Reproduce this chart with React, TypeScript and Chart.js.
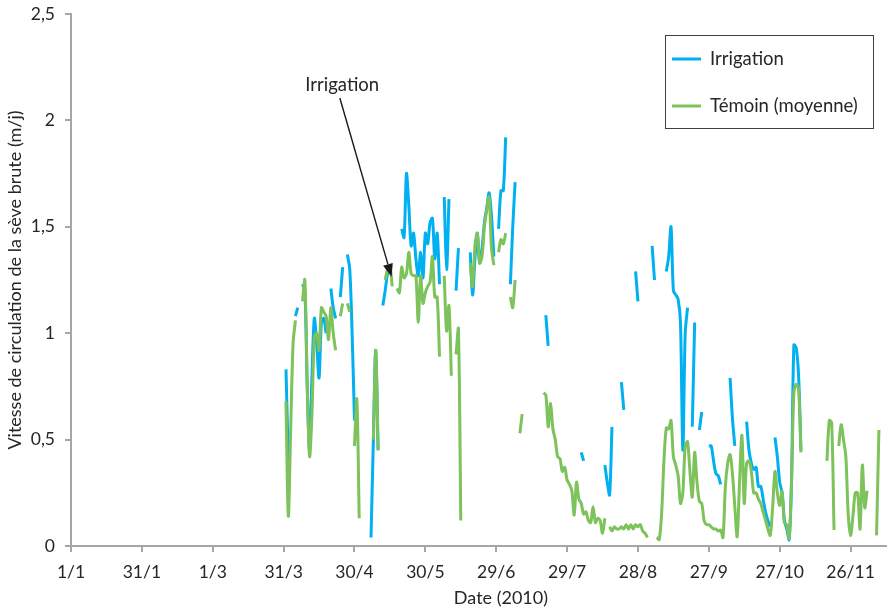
import React, { useEffect, useRef } from "react";
import { Chart, registerables } from "chart.js";

Chart.register(...registerables);

// ---- Data (day of year, 0 = 1 January 2010) ----
const START_DAY = 91;

// Irrigation, one value per day from START_DAY (null = no measure)
const irrigation: (number | null)[] = [
  0.83, 0.4, null, null, 1.08, 1.12, null, 1.23, 1.2, 0.75, // 91-100
  0.45, 0.8, 1.07, 0.95, 0.79, 1.05, 1.07, 1.0, null, 1.21, // 101-110
  1.12, 1.07, null, 1.17, 1.31, null, 1.37, 1.3, 1.0, 0.59, // 111-120
  null, null, null, null, null, null, 0.04, 0.5, 0.92, 0.45, // 121-130
  null, 1.13, 1.2, 1.28, 1.3, null, null, null, null, 1.49, // 131-140
  1.45, 1.75, 1.6, 1.41, 1.47, 1.35, 1.27, 1.38, 1.26, 1.47, // 141-150
  1.42, 1.52, 1.54, 1.35, 1.47, 1.23, null, 1.64, 1.3, 1.63, // 151-160
  null, null, 1.2, 1.4, null, null, null, null, 1.38, 1.18, // 161-170
  1.35, 1.47, 1.33, 1.4, 1.52, 1.59, 1.66, 1.55, 1.36, null, // 171-180
  1.49, 1.67, 1.67, 1.92, null, 1.23, 1.5, 1.71, null, null, // 181-190
  null, null, null, null, null, null, null, null, null, null, // 191-200
  1.085, 0.94, null, null, null, null, null, null, null, null, // 201-210
  null, null, null, null, null, 0.44, 0.4, null, null, null, // 211-220
  null, null, null, null, null, 0.38, 0.3, 0.24, 0.56, null, // 221-230
  null, null, 0.77, 0.64, null, null, null, null, 1.29, 1.15, // 231-240
  null, null, null, null, null, 1.41, 1.25, null, null, null, // 241-250
  null, 1.29, 1.36, 1.5, 1.2, 1.18, 1.16, 1.05, 0.45, 1.0, // 251-260
  1.12, null, 0.56, 1.05, null, 0.545, 0.63, null, null, 0.47, // 261-270
  0.47, 0.4, 0.34, 0.33, 0.29, null, null, null, 0.79, 0.6, // 271-280
  0.47, null, null, null, null, 0.585, 0.45, 0.39, 0.36, 0.37, // 281-290
  0.28, 0.28, 0.22, 0.16, 0.12, 0.09, null, 0.51, 0.42, 0.3, // 291-300
  0.25, 0.12, 0.08, 0.03, 0.3, 0.945, 0.93, 0.8, 0.45, null, // 301-310
];

// Témoin (moyenne), one value per day from START_DAY
const temoin: (number | null)[] = [
  0.68, 0.14, 0.55, 0.95, 1.06, null, null, 1.15, 1.25, 0.75, // 91-100
  0.42, 0.62, 0.98, 1.0, 0.92, 1.12, 1.1, 1.08, 0.97, 1.12, // 101-110
  1.0, 0.92, null, 1.08, 1.14, null, 1.14, 1.1, null, 0.47, // 111-120
  0.69, 0.13, null, null, null, null, null, 0.5, 0.92, 0.45, // 121-130
  null, null, 1.25, 1.3, 1.31, 1.22, null, 1.21, 1.19, 1.31, // 131-140
  1.26, 1.28, 1.38, 1.28, 1.27, 1.27, 1.05, 1.27, 1.14, 1.19, // 141-150
  1.22, 1.24, 1.36, 1.17, 1.17, 0.89, null, 1.27, 1.01, 1.13, // 151-160
  0.8, null, 0.9, 1.02, 0.12, null, null, null, 1.33, 1.22, // 161-170
  1.41, 1.47, 1.33, 1.36, 1.5, 1.58, 1.64, 1.4, 1.32, null, // 171-180
  1.38, 1.44, 1.42, 1.47, null, 1.17, 1.12, 1.25, null, 0.53, // 181-190
  0.62, null, null, null, null, null, null, null, null, 0.72, // 191-200
  0.71, 0.56, 0.67, 0.55, 0.5, 0.42, 0.41, 0.35, 0.37, 0.31, // 201-210
  0.29, 0.26, 0.145, 0.3, 0.22, 0.2, 0.15, 0.16, 0.12, 0.11, // 211-220
  0.185, 0.11, 0.13, 0.12, 0.06, 0.13, null, 0.09, 0.07, 0.09, // 221-230
  0.08, 0.08, 0.09, 0.08, 0.1, 0.08, 0.1, 0.08, 0.1, 0.09, // 231-240
  0.1, 0.07, 0.06, 0.04, null, null, null, 0.04, 0.03, 0.15, // 241-250
  0.4, 0.555, 0.55, 0.59, 0.42, 0.38, 0.33, 0.2, 0.25, 0.47, // 251-260
  0.49, 0.35, 0.23, 0.44, 0.3, 0.21, 0.2, 0.12, 0.1, 0.1, // 261-270
  0.09, 0.08, 0.08, 0.07, 0.075, 0.04, 0.28, 0.39, 0.43, 0.34, // 271-280
  0.185, 0.044, 0.3, 0.52, 0.2, 0.39, 0.4, 0.35, 0.25, 0.25, // 281-290
  0.22, 0.2, 0.16, 0.12, 0.08, 0.05, 0.18, 0.35, 0.25, 0.19, // 291-300
  0.255, 0.11, 0.1, 0.036, 0.3, 0.72, 0.76, 0.74, 0.44, null, // 301-310
  null, null, null, null, null, null, null, null, null, 0.4, // 311-320
  0.59, 0.58, 0.075, null, 0.47, 0.57, 0.5, 0.42, 0.15, 0.05, // 321-330
  0.14, 0.25, 0.25, 0.08, 0.38, 0.18, 0.26, null, null, null, // 331-340
  0.05, 0.545, // 341-342
];

const seriesLabels = ["Irrigation", "Témoin (moyenne)"];
const xTickDays = [0, 30, 60, 90, 120, 150, 180, 210, 240, 270, 300, 330];
const xTickLabels = ["1/1", "31/1", "1/3", "31/3", "30/4", "30/5", "29/6", "29/7", "28/8", "27/9", "27/10", "26/11"];
const yTickValues = [0, 0.5, 1, 1.5, 2, 2.5];
const X_MAX = 345;

const yTitle = "Vitesse de circulation de la sève brute (m/j)";
const xTitle = "Date (2010)";
const annotationText = "Irrigation";
const annotationTextPos = [114.8, 2.166];
const arrowFrom = [113.8, 2.105];
const arrowTo = [135.7, 1.265];

// ---- Styles ----
const FONT = "Lato, 'Open Sans', sans-serif";
const TEXT_COLOR = "#262626";
const AXIS_COLOR = "#a6a6a6";
const BLUE = "#00b0f0";
const GREEN = "#7dc25a";

const toPoints = (arr: (number | null)[]) =>
  arr.map((v, i) => ({ x: START_DAY + i, y: v }));

const fmtComma = (v: number) => String(v).replace(".", ",");

const overlayPlugin = {
  id: "overlay",
  afterDatasetsDraw(chart: any) {
    const { ctx, chartArea, scales } = chart;
    const xs = scales.x;
    const ys = scales.y;
    ctx.save();

    // Arrow annotation
    const x1 = xs.getPixelForValue(arrowFrom[0]);
    const y1 = ys.getPixelForValue(arrowFrom[1]);
    const x2 = xs.getPixelForValue(arrowTo[0]);
    const y2 = ys.getPixelForValue(arrowTo[1]);
    const ang = Math.atan2(y2 - y1, x2 - x1);
    const head = 13;
    const hw = 5;
    const bx = x2 - head * Math.cos(ang);
    const by = y2 - head * Math.sin(ang);
    ctx.strokeStyle = "#1a1a1a";
    ctx.lineWidth = 1.4;
    ctx.beginPath();
    ctx.moveTo(x1, y1);
    ctx.lineTo(bx, by);
    ctx.stroke();
    ctx.fillStyle = "#1a1a1a";
    ctx.beginPath();
    ctx.moveTo(x2, y2);
    ctx.lineTo(bx + hw * Math.sin(ang), by - hw * Math.cos(ang));
    ctx.lineTo(bx - hw * Math.sin(ang), by + hw * Math.cos(ang));
    ctx.closePath();
    ctx.fill();

    ctx.font = `18.5px ${FONT}`;
    ctx.fillStyle = TEXT_COLOR;
    ctx.textAlign = "center";
    ctx.textBaseline = "middle";
    ctx.fillText(
      annotationText,
      xs.getPixelForValue(annotationTextPos[0]),
      ys.getPixelForValue(annotationTextPos[1])
    );

    // Legend box
    const lx = chartArea.right - 221;
    const ly = chartArea.top + 21;
    const lw = 208;
    const lh = 93;
    ctx.fillStyle = "#ffffff";
    ctx.fillRect(lx, ly, lw, lh);
    ctx.strokeStyle = "#404040";
    ctx.lineWidth = 1;
    ctx.strokeRect(Math.round(lx) + 0.5, Math.round(ly) + 0.5, lw, lh);
    const colors = [BLUE, GREEN];
    const rowsY = [ly + 24, ly + 71];
    ctx.font = `18.5px ${FONT}`;
    seriesLabels.forEach((lab, i) => {
      ctx.strokeStyle = colors[i];
      ctx.lineWidth = 3;
      ctx.beginPath();
      ctx.moveTo(lx + 7, rowsY[i]);
      ctx.lineTo(lx + 36, rowsY[i]);
      ctx.stroke();
      ctx.fillStyle = TEXT_COLOR;
      ctx.textAlign = "left";
      ctx.textBaseline = "middle";
      ctx.fillText(lab, lx + 45, rowsY[i]);
    });

    // X axis title
    ctx.font = `18px ${FONT}`;
    ctx.textAlign = "center";
    ctx.textBaseline = "middle";
    ctx.fillText(xTitle, xs.getPixelForValue(182), chart.height - 13);

    ctx.restore();
  },
};

export default function App() {
  const canvasRef = useRef<HTMLCanvasElement | null>(null);

  useEffect(() => {
    document.body.style.margin = "0";
    const canvas = canvasRef.current;
    if (!canvas) return;
    Chart.defaults.font.family = FONT;
    Chart.defaults.font.size = 17.5;
    Chart.defaults.color = TEXT_COLOR;

    const chart = new Chart(canvas, {
      type: "line",
      data: {
        datasets: [
          {
            label: seriesLabels[0],
            data: toPoints(irrigation) as any,
            borderColor: BLUE,
            backgroundColor: BLUE,
            borderWidth: 3,
            pointRadius: 0,
            tension: 0.3,
            spanGaps: false,
            order: 2,
          },
          {
            label: seriesLabels[1],
            data: toPoints(temoin) as any,
            borderColor: GREEN,
            backgroundColor: GREEN,
            borderWidth: 3,
            pointRadius: 0,
            tension: 0.3,
            spanGaps: false,
            order: 1,
          },
        ],
      },
      options: {
        animation: false,
        responsive: true,
        maintainAspectRatio: false,
        layout: { padding: { top: 14, right: 1, left: 0, bottom: 0 } },
        plugins: {
          legend: { display: false },
          tooltip: { enabled: false },
        },
        scales: {
          x: {
            type: "linear",
            min: 0,
            max: X_MAX,
            afterBuildTicks: (scale: any) => {
              scale.ticks = xTickDays.map((v) => ({ value: v }));
            },
            afterFit: (scale: any) => {
              scale.height = 65;
              scale.paddingLeft = 0;
              scale.paddingRight = 0;
            },
            ticks: {
              autoSkip: false,
              maxRotation: 0,
              padding: 10,
              color: TEXT_COLOR,
              callback: (v: any) => {
                const i = xTickDays.indexOf(Number(v));
                return i >= 0 ? xTickLabels[i] : "";
              },
            },
            grid: {
              display: true,
              drawOnChartArea: false,
              drawTicks: true,
              tickLength: 6,
              color: AXIS_COLOR,
              lineWidth: 2,
            },
            border: { display: true, color: AXIS_COLOR, width: 2 },
            title: { display: false },
          },
          y: {
            type: "linear",
            min: 0,
            max: 2.5,
            afterBuildTicks: (scale: any) => {
              scale.ticks = yTickValues.map((v) => ({ value: v }));
            },
            afterFit: (scale: any) => {
              scale.width = 71;
              scale.paddingTop = 0;
              scale.paddingBottom = 0;
            },
            ticks: {
              padding: 10,
              color: TEXT_COLOR,
              callback: (v: any) => fmtComma(Number(v)),
            },
            grid: {
              display: true,
              drawOnChartArea: false,
              drawTicks: true,
              tickLength: 6,
              color: AXIS_COLOR,
              lineWidth: 2,
            },
            border: { display: true, color: AXIS_COLOR, width: 2 },
            title: {
              display: true,
              text: yTitle,
              color: TEXT_COLOR,
              font: { size: 18, family: FONT },
              padding: { top: 4, bottom: 0 },
            },
          },
        },
      },
      plugins: [overlayPlugin],
    });

    return () => chart.destroy();
  }, []);

  return (
    <div style={{ position: "fixed", left: 0, top: 0, width: 887, height: 611, background: "#fff" }}>
      <canvas ref={canvasRef} />
    </div>
  );
}
